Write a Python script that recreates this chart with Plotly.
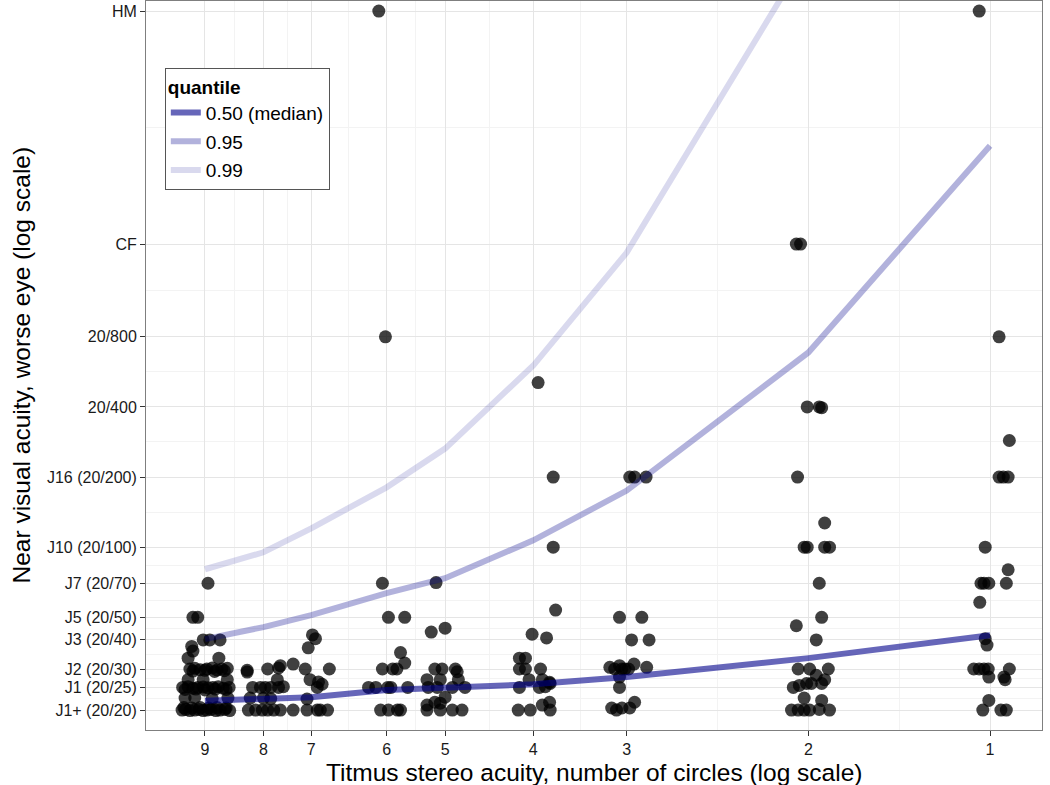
import numpy as np
import plotly.graph_objects as go

# ---- axes / categories ----
circles = [9, 8, 7, 6, 5, 4, 3, 2, 1]
arcsec = [40, 50, 60, 80, 100, 140, 200, 400, 800]          # stereo acuity (arc sec) per circle
acuity_labels = ["J1+ (20/20)", "J1 (20/25)", "J2 (20/30)", "J3 (20/40)", "J5 (20/50)",
                 "J7 (20/70)", "J10 (20/100)", "J16 (20/200)", "20/400", "20/800", "CF", "HM"]
acuity_denom = [20, 25, 30, 40, 50, 70, 100, 200, 400, 800, 2000, 20000]

# ---- quantile curves (Snellen denominator) ----
q50 = [21.9, 22.3, 22.7, 24.4, 24.9, 25.8, 27.7, 33.4, 41.9]
q95 = [40.3, 45.4, 51.1, 63.5, 73.6, 107, 175, 685, 5282]
q99 = [80.4, 95.1, 120.5, 180.6, 265, 602, 1838, 35500, 400000]

# ---- observations: (jitter in 1/1000 decade, Snellen denominator) per circle ----
c9 = [(5, 70), (-20, 50), (-12, 50), (-3, 40), (8, 40), (25, 40),
      (-22, 37.5), (-20, 35.8), (-28, 33.4), (23, 33.4),
      (-25, 30), (-17, 30.2), (-8, 29.8), (3, 30), (12, 30.3), (20, 29.7), (28, 30), (37, 30.2),
      (-20, 29.4), (0, 29.6), (16, 29.3), (32, 29.5),
      (-28, 27), (-3, 27), (37, 27),
      (-37, 25), (-28, 25.2), (-20, 24.8), (-12, 25), (-3, 25.1), (5, 24.9), (13, 25), (22, 25.2), (30, 24.8), (40, 25),
      (-33, 24.5), (-15, 24.6), (0, 24.4), (17, 24.6), (35, 24.5),
      (-33, 22.5), (-17, 22.6), (12, 22.4), (38, 22.5),
      (-38, 20), (-32, 20.1), (-25, 19.9), (-17, 20), (-10, 20.1), (-3, 19.9), (3, 20), (10, 20.1),
      (18, 19.9), (25, 20), (33, 20.1), (41, 19.9),
      (-35, 20.5), (-22, 20.4), (-8, 20.5), (6, 20.4), (20, 20.5), (35, 20.4)]
c8 = [(-27, 29.6), (-27, 29.1), (7, 30), (25, 30.3), (28, 31),
      (-18, 25), (-5, 25), (3, 25), (12, 25), (25, 25), (33, 25.2), (23, 27),
      (-25, 20), (-13, 20), (-2, 20), (7, 20), (17, 20), (28, 20),
      (-22, 22.5), (0, 22.5), (12, 22.4)]
c7 = [(-30, 31.5), (-10, 30), (30, 30), (2, 42), (7, 40.5), (-5, 37),
      (-2, 27), (12, 26.4), (18, 25.8), (10, 25), (-7, 22.3),
      (-30, 20), (-7, 20), (10, 20), (15, 20), (27, 20)]
c6 = [(-13, 20000), (-2, 800), (-7, 70), (3, 50), (30, 50), (23, 35.3), (30, 31.8),
      (-7, 30), (10, 30), (17, 30),
      (-30, 25), (-18, 25), (2, 25), (7, 25), (35, 25),
      (-10, 20), (3, 20), (18, 20), (23, 20)]
c5 = [(-15, 70.5), (-23, 43.2), (0, 44.9),
      (-17, 30), (-5, 30), (17, 30), (20, 29.2),
      (-30, 27), (-8, 27), (22, 27),
      (-28, 25), (-13, 25), (12, 25), (33, 25),
      (0, 22.7), (-30, 21), (-17, 21.6), (-8, 21.4),
      (-30, 20), (-8, 20), (12, 20), (28, 20)]
c4 = [(8, 509), (33, 200), (33, 100), (37, 53.7), (-2, 42.3), (22, 40.8),
      (-23, 33.4), (-13, 33.4), (-23, 30), (-13, 30), (12, 30),
      (-7, 27), (15, 27), (27, 26.3), (28, 26),
      (-23, 25), (10, 25), (20, 25.2),
      (15, 21), (27, 21.6),
      (-25, 20), (-5, 20), (28, 20)]
c3 = [(5, 200), (13, 200), (32, 200), (-12, 50), (25, 50), (8, 40), (37, 40),
      (-28, 30.5), (-20, 30), (-12, 31), (-8, 30), (-3, 30), (3, 30), (12, 31.5), (33, 30.5),
      (-12, 27.7), (-12, 25),
      (-25, 20.4), (-8, 20.4), (5, 20.4), (13, 21.6), (-17, 20)]
c2 = [(-20, 2000), (-13, 2000), (-2, 400), (18, 400), (22, 397), (-18, 200), (27, 127),
      (-7, 100), (-2, 100), (27, 100), (35, 100), (18, 70), (22, 50), (-20, 46), (13, 40),
      (-17, 30), (2, 30), (33, 30), (13, 28.2), (27, 27),
      (-25, 25), (-15, 25.5), (-3, 26), (5, 26), (22, 26),
      (-7, 22.5), (22, 22),
      (-28, 20), (-17, 20), (-7, 20), (2, 20), (18, 20.1), (35, 20)]
c1 = [(-18, 20000), (15, 800), (32, 287), (15, 200), (22, 200), (30, 200), (-8, 100), (30, 80),
      (-15, 70), (-10, 70), (-2, 70), (27, 70), (-17, 58), (-8, 40.5), (-5, 38),
      (-27, 30), (-18, 30), (-10, 30), (-3, 30), (32, 30),
      (-2, 27.7), (23, 27.7), (25, 27), (-2, 22),
      (-12, 20), (18, 20), (27, 20)]
observations = {9: c9, 8: c8, 7: c7, 6: c6, 5: c5, 4: c4, 3: c3, 2: c2, 1: c1}

# ---- build point coordinates from data ----
arc_of = dict(zip(circles, arcsec))
px, py = [], []
for c, pts in observations.items():
    for dx, y in pts:
        px.append(arc_of[c] * 10 ** (dx / 1000.0))
        py.append(y)

FONT = "Liberation Sans, Arial, Helvetica, sans-serif"
fig = go.Figure()
fig.add_trace(go.Scatter(x=px, y=py, mode="markers", showlegend=False, hoverinfo="skip",
                         marker=dict(size=13, color="rgba(0,0,0,0.75)", line=dict(width=0))))

for name, vals, a in [("0.50 (median)", q50, 0.6), ("0.95", q95, 0.3), ("0.99", q99, 0.15)]:
    fig.add_trace(go.Scatter(x=arcsec, y=vals, mode="lines", name=name, legendgroup=name,
                             line=dict(color=f"rgba(0,0,139,{a})", width=6)))

x_minor = [float(np.sqrt(arcsec[i] * arcsec[i + 1])) for i in range(len(arcsec) - 1)]
y_minor = [float(np.sqrt(acuity_denom[i] * acuity_denom[i + 1])) for i in range(len(acuity_denom) - 1)]

axis_common = dict(showline=True, mirror=True, linecolor="#7f7f7f", linewidth=1,
                   ticks="outside", ticklen=5, tickcolor="#333333", automargin=False,
                   showgrid=True, gridcolor="#e5e5e5", gridwidth=1, zeroline=False,
                   tickfont=dict(family=FONT, size=16, color="#1a1a1a"))

fig.update_xaxes(type="log", range=[1.5043, 2.9892], tickmode="array",
                 tickvals=arcsec, ticktext=[str(c) for c in circles],
                 minor=dict(tickmode="array", tickvals=x_minor, showgrid=True,
                            gridcolor="#f3f3f3", ticks=""),
                 **axis_common)
fig.update_yaxes(type="log", range=[1.2153, 4.3443], tickmode="array",
                 tickvals=acuity_denom, ticktext=acuity_labels,
                 minor=dict(tickmode="array", tickvals=y_minor, showgrid=True,
                            gridcolor="#f3f3f3", ticks=""),
                 **axis_common)

fig.add_annotation(text="Titmus stereo acuity, number of circles (log scale)",
                   xref="paper", yref="paper", x=0.5, y=-42 / 729, xanchor="center", yanchor="middle",
                   showarrow=False, font=dict(family=FONT, size=24.5, color="#000"))
fig.add_annotation(text="Near visual acuity, worse eye (log scale)", textangle=-90,
                   xref="paper", yref="paper", x=-125 / 896, y=0.5, xanchor="center", yanchor="middle",
                   showarrow=False, font=dict(family=FONT, size=24.5, color="#000"))

fig.update_layout(
    width=1050, height=785,
    margin=dict(l=146, r=8, t=1, b=55, autoexpand=False),
    paper_bgcolor="white", plot_bgcolor="white",
    font=dict(family=FONT, size=16, color="#000"),
    legend=dict(x=0.021, y=0.908, xanchor="left", yanchor="top",
                bgcolor="white", bordercolor="#555555", borderwidth=1,
                title=dict(text="<b>quantile</b>", font=dict(family=FONT, size=19)),
                font=dict(family=FONT, size=19), tracegroupgap=1, itemwidth=30),
    showlegend=True,
)

fig.write_html("out.html", config={"displayModeBar": False},
               post_script="document.body.style.margin='0px';")
